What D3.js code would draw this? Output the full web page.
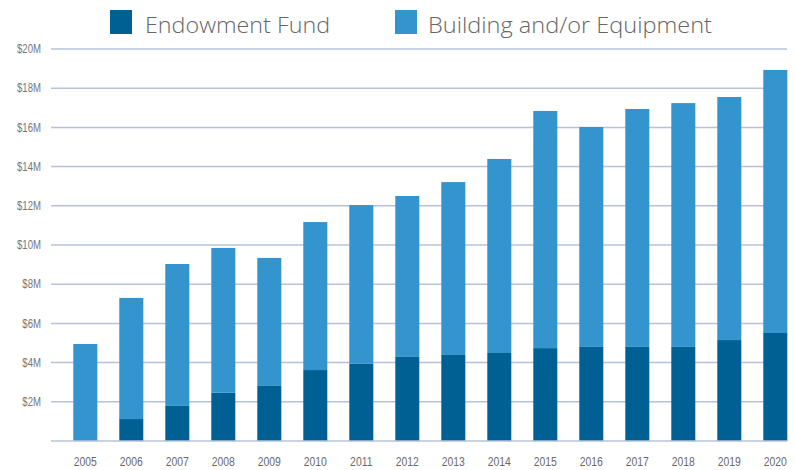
<!DOCTYPE html>
<html><head><meta charset="utf-8">
<script src="https://cdn.jsdelivr.net/npm/d3@7"></script>
<style>
html,body{margin:0;padding:0;background:#fff;}
svg{display:block;}
</style></head>
<body>
<svg id="chart" width="795" height="470"></svg>
<script>
const years = ["2005","2006","2007","2008","2009","2010","2011","2012","2013","2014","2015","2016","2017","2018","2019","2020"];
const endowment = [0, 1.12, 1.79, 2.46, 2.81, 3.62, 3.94, 4.29, 4.39, 4.49, 4.74, 4.80, 4.80, 4.80, 5.15, 5.51];
const building  = [4.95, 6.18, 7.24, 7.39, 6.53, 7.55, 8.10, 8.21, 8.82, 9.90, 12.10, 11.22, 12.14, 12.44, 12.40, 13.42];
const yTicks = [2, 4, 6, 8, 10, 12, 14, 16, 18, 20];
const seriesNames = ["Endowment Fund", "Building and/or Equipment"];
const colors = ["#006094", "#3494ce"];

const svg = d3.select("#chart");
const x = d3.scaleBand().domain(years).range([62.3, 798.3]).paddingInner(0.478).paddingOuter(0.239);
const y = d3.scaleLinear().domain([0, 20]).range([441, 49]);
const gridX0 = 51, gridX1 = 787;
const narrow = "'Liberation Sans',Arial,sans-serif";
const sx = 0.8;

// gridlines
svg.append("g").selectAll("line").data(yTicks).join("line")
  .attr("x1", gridX0).attr("x2", gridX1)
  .attr("y1", d => y(d)).attr("y2", d => y(d))
  .attr("stroke", "#b5c3da").attr("stroke-width", 1.5);

// y labels
svg.append("g").selectAll("text").data(yTicks).join("text")
  .attr("transform", d => `translate(41,${y(d)}) scale(${sx},1)`)
  .attr("dy", "0.35em")
  .attr("text-anchor", "end")
  .style("font-family", narrow)
  .style("font-size", "12px").attr("fill", "#777")
  .text(d => "$" + d + "M");

// stacked bars
const data = years.map((yr, i) => ({year: yr, e: endowment[i], b: building[i]}));
const stack = d3.stack().keys(["e", "b"])(data);
svg.append("g").selectAll("g").data(stack).join("g")
  .attr("fill", (d, i) => colors[i])
  .selectAll("rect").data(d => d).join("rect")
  .attr("x", d => x(d.data.year)).attr("width", x.bandwidth())
  .attr("y", d => y(d[1])).attr("height", d => y(d[0]) - y(d[1]));

// baseline
svg.append("line").attr("x1", gridX0).attr("x2", gridX1)
  .attr("y1", y(0)).attr("y2", y(0))
  .attr("stroke", "#b5c3da").attr("stroke-width", 1.5);

// x labels
svg.append("g").selectAll("text").data(years).join("text")
  .attr("transform", d => `translate(${x(d) + x.bandwidth() / 2},466) scale(${sx},1)`)
  .attr("text-anchor", "middle")
  .style("font-family", narrow)
  .style("font-size", "13px").attr("fill", "#6a6a6a")
  .text(d => d);

// legend
const legendX = [110, 395];
const legendLen = [185, 284];
const lg = svg.append("g").selectAll("g").data(seriesNames).join("g")
  .attr("transform", (d, i) => `translate(${legendX[i]},0)`);
lg.append("rect").attr("x", 0).attr("y", 10).attr("width", 22).attr("height", 24)
  .attr("fill", (d, i) => colors[i]);
lg.append("text").attr("x", (d, i) => i === 0 ? 35 : 33).attr("y", 33)
  .attr("textLength", (d, i) => legendLen[i]).attr("lengthAdjust", "spacingAndGlyphs")
  .style("font-family", "'Open Sans',sans-serif").style("font-weight", "300")
  .style("font-size", "22px").attr("fill", "#666")
  .text(d => d);
</script>
</body></html>
